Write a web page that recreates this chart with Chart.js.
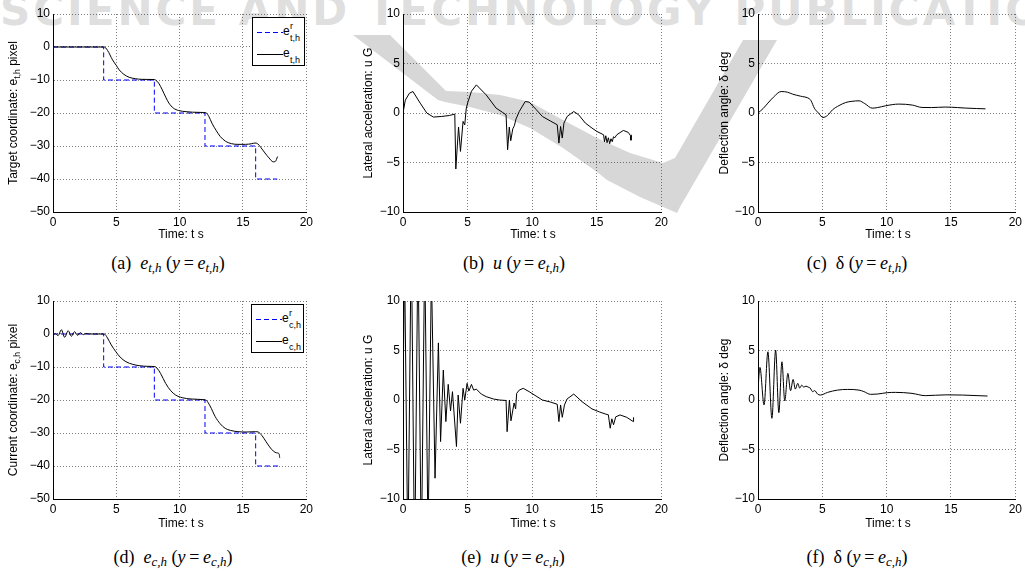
<!DOCTYPE html>
<html>
<head>
<meta charset="utf-8">
<script src="https://cdn.jsdelivr.net/npm/chart.js@4.4.1/dist/chart.umd.min.js"></script>
<style>
  html, body { margin: 0; padding: 0; background: #fff; }
  #page { position: relative; width: 1025px; height: 571px; overflow: hidden;
          font-family: "Liberation Sans", Arial, sans-serif; color: #000; }
  .wm { position: absolute; left: 0; top: -10px; font: bold 42px/42px "DejaVu Sans";
        letter-spacing: 3px; color: #dfdfdf; white-space: nowrap; }
  canvas { position: absolute; }
  .yt { position: absolute; font-size: 12px; white-space: nowrap;
        transform: translate(-50%, -50%) rotate(-90deg); }
  .xt { position: absolute; font-size: 12px; white-space: nowrap; transform: translate(-50%, -50%); }
  .cap { position: absolute; font: 18px "Liberation Serif", "Times New Roman", serif;
         white-space: nowrap; transform: translate(-50%, -50%); }
  .yt sub, .cap sub { font-size: 0.72em; vertical-align: -0.3em; line-height: 0; }
  .lg { position: absolute; box-sizing: border-box; border: 1px solid #000; background: #fff; }
  .lg svg { position: absolute; left: 0; top: 0; }
  .lg span { position: absolute; line-height: 1; white-space: nowrap; }
  .lg .e { font-size: 12px; }
  .lg .s { font-size: 9px; }
</style>
</head>
<body>
<div id="page">
  <div class="wm">SCIENCE AND TECHNOLOGY PUBLICATIONS</div>
  <svg width="1025" height="571" style="position:absolute;left:0;top:0">
    <path fill="#d7d7d7" d="M353 35 L390 35 L446 91 L470 92 L500 95 L530 102 L563 120 L597 138 L630 153 L663 163 L675 158
      L743 40 L777 40 L680 207 L677 213 L640 197 L607 180 L597 172 L563 148 L530 128 L500 115 L470 107 L445 102 L438 100 Z"/>
  </svg>
</div>

<script>
/* ---------- data ---------- */

// (a) target coordinate, reference step and response
const refTimeA = [0, 4, 4, 8, 8, 12, 12, 16, 16, 17.7];
const refValA  = [0, 0, -10, -10, -20, -20, -30, -30, -40, -40];
const timeA = [0, 4.05, 4.3, 4.7, 5.0, 5.23, 5.6, 6.01, 6.5, 7.0, 7.98, 8.1, 8.35, 8.63, 8.9, 9.15, 9.5, 9.93,
               10.5, 11.0, 11.9, 12.1, 12.3, 12.55, 12.9, 13.2, 13.6, 14.1, 14.6, 15.2, 15.7, 15.95, 16.15,
               16.4, 16.73, 17.05, 17.39, 17.55, 17.73];
const valA  = [0, 0, -1.0, -3.9, -5.6, -6.95, -8.3, -9.17, -9.6, -9.8, -9.85, -10.0, -11.0, -13.0, -15.2, -17.0,
               -18.5, -19.26, -19.6, -19.75, -19.85, -20.0, -21.0, -23.1, -25.4, -27.1, -28.5, -29.3, -29.5,
               -29.5, -29.3, -29.1, -29.3, -30.4, -32.1, -33.6, -34.8, -34.7, -33.2];

// (b) lateral acceleration, y = e_t,h
const timeB = [0, 0.18, 0.5, 0.77, 1.33, 1.84, 2.35, 3.0, 3.6, 4.01, 4.09, 4.3, 4.45, 4.65, 4.78, 4.9, 5.04, 5.3,
               5.68, 6.44, 7.21, 7.72, 7.98, 8.1, 8.23, 8.34, 8.5, 8.62, 8.75, 9.0, 9.46, 9.77, 10.28, 10.79,
               11.4, 11.94, 12.07, 12.2, 12.33, 12.46, 12.71, 13.22, 13.6, 14.12, 14.63, 15.01, 15.53, 15.6,
               15.7, 15.8, 15.9, 16.0, 16.1, 16.2, 16.3, 16.4, 16.55, 17.06, 17.44, 17.62, 17.65, 17.68];
const valB  = [0, 1.3, 2.0, 2.17, 1.0, 0.0, -0.41, -0.35, -0.25, -0.11, -5.66, -1.42, -3.88, -0.85, -1.2, 0.5,
               1.16, 2.2, 2.84, 1.83, 0.49, 0.05, -0.18, -3.71, -1.42, -2.8, -1.6, -1.29, -0.6, 0.15, 1.16, 1.1,
               0.39, -0.35, -0.8, -1.19, -3.04, -1.36, -2.53, -1.02, -0.35, 0.15, -0.18, -1.02, -1.52, -1.86,
               -2.2, -2.9, -2.3, -3.0, -2.5, -3.1, -2.6, -2.9, -2.4, -2.5, -2.2, -1.76, -1.96, -2.3, -2.75, -2.2];

// (c) deflection angle, y = e_t,h
const timeC = [0, 0.4, 0.77, 1.2, 1.8, 2.3, 2.7, 3.3, 4.0, 4.12, 4.38, 4.7, 5.05, 5.4, 5.79, 6.3, 6.82, 7.3,
               7.85, 8.3, 8.88, 9.3, 9.92, 10.94, 12.0, 12.74, 13.5, 14.55, 15.5, 16.1, 17.0, 17.68];
const valC  = [0, 0.45, 1.0, 1.6, 2.17, 2.1, 1.9, 1.7, 1.43, 1.25, 0.49, 0, -0.45, -0.25, 0.32, 0.75, 1.06, 1.18,
               1.23, 0.95, 0.49, 0.55, 0.73, 0.9, 0.8, 0.56, 0.55, 0.6, 0.55, 0.5, 0.45, 0.42];

// (d) current coordinate, reference step and response
const refTimeD = [0, 4, 4, 8, 8, 12, 12, 16, 16, 17.9];
const refValD  = [0, 0, -10, -10, -20, -20, -30, -30, -40, -40];
const timeD = [0, 0.2, 0.4, 0.66, 0.92, 1.2, 1.45, 1.7, 1.95, 2.15, 2.4, 2.6, 2.9, 4.05, 4.3, 4.6, 4.97, 5.3,
               5.76, 6.3, 6.8, 7.5, 8.05, 8.2, 8.5, 8.9, 9.3, 9.68, 10.2, 10.9, 11.9, 12.1, 12.4, 12.8, 13.2,
               13.6, 14.0, 14.6, 15.3, 16.0, 16.2, 16.5, 16.8, 17.1, 17.4, 17.65, 17.85, 17.9];
const valD  = [-0.4, 0.1, -0.5, 1.3, -1.0, 1.0, -0.7, 0.7, -0.4, 0.4, -0.2, 0.15, 0, 0, -1.2, -3.3, -5.4, -7.0,
               -8.4, -9.2, -9.6, -9.8, -9.9, -10.3, -12.0, -15.0, -17.2, -18.5, -19.3, -19.7, -19.9, -20.1,
               -21.8, -25.0, -27.2, -28.6, -29.2, -29.6, -29.7, -29.6, -29.7, -30.8, -32.5, -34.2, -35.5,
               -36.0, -36.3, -37.5];

// (e) lateral acceleration, y = e_c,h
const timeE = [0, 0.12, 0.38, 0.64, 0.9, 1.16, 1.42, 1.68, 1.94, 2.2, 2.48, 2.74, 2.91, 3.12, 3.32, 3.5, 3.68,
               3.83, 4.14, 4.27, 4.45, 4.65, 4.78, 4.96, 5.1, 5.3, 5.47, 5.68, 6.06, 6.44, 7.0, 7.47, 7.98, 8.06,
               8.24, 8.36, 8.6, 8.72, 8.8, 9.0, 9.31, 9.77, 10.3, 10.79, 11.4, 11.94, 12.07, 12.2, 12.33, 12.5,
               12.7, 13.22, 13.86, 14.63, 15.2, 15.66, 15.9, 16.04, 16.17, 16.3, 16.47, 16.81, 17.32, 17.83, 17.85];
const valE  = [0, 14, -16, 17, -17, 16, -16, 15, -14, 13, -7.9, 5.77, -4.2, 3.02, -2.18, 1.58, -1.1, 0.84, -4.7,
               0.5, -2.35, 1.18, 0, 1.68, 0.9, 1.58, 1.0, 1.1, 0.6, 0.34, 0.1, 0, -0.05, -3.2, 0, -2.1, -0.3,
               -0.9, 0.67, 1.0, 1.18, 0.84, 0.4, 0, -0.2, -0.43, -2.18, -0.5, -1.75, -0.5, 0.1, 0.6, -0.17, -0.9,
               -1.2, -1.41, -1.5, -2.85, -1.9, -2.5, -1.7, -1.51, -1.75, -2.18, -1.75];

// (f) deflection angle, y = e_c,h
const timeF = [0, 0.05, 0.15, 0.47, 0.77, 1.08, 1.37, 1.62, 1.86, 2.08, 2.32, 2.53, 2.73, 2.9, 3.09, 3.24, 3.4,
               3.55, 3.73, 3.9, 4.06, 4.25, 4.4, 4.63, 4.84, 5.41, 6.18, 6.95, 7.85, 8.23, 8.75, 9.27, 10.04,
               10.69, 11.97, 13.0, 14.6, 15.9, 17.84];
const valF  = [0.5, 2.0, 3.3, -0.5, 4.87, -1.85, 5.03, -1.28, 3.86, -0.1, 2.69, 0.94, 2.08, 1.1, 1.68, 1.2, 1.5,
               1.3, 1.4, 1.3, 1.2, 0.84, 0.95, 0.6, 0.5, 0.77, 1.0, 1.07, 1.0, 0.85, 0.57, 0.6, 0.74, 0.77, 0.67,
               0.44, 0.52, 0.5, 0.4];

const xTicksStep = 5;

/* ---------- layout ---------- */
const AXIS_W = 53, PAD_TOP = 14, PAD_RIGHT = 8, AXIS_H = 40;
const TICK_FONT = { family: "'Liberation Sans', Arial, sans-serif", size: 12 };
const GRID = 'rgba(0,0,0,0.5)';
const page = document.getElementById('page');

function pts(t, v) { return t.map((x, i) => ({ x, y: v[i] })); }
const minus = v => (v < 0 ? '\u2212' + Math.abs(v) : '' + v);

function plot(area, yMin, yMax, yStep, datasets) {
  const [L, T, R, B] = area;
  const cv = document.createElement('canvas');
  cv.width = R - L + AXIS_W + PAD_RIGHT;
  cv.height = B - T + PAD_TOP + AXIS_H;
  cv.style.left = (L - AXIS_W) + 'px';
  cv.style.top = (T - PAD_TOP) + 'px';
  page.appendChild(cv);

  const axis = {
    grid: { color: GRID, drawTicks: false },
    border: { color: '#000', width: 1, dash: [1, 2] },
  };

  new Chart(cv, {
    type: 'line',
    data: { datasets },
    options: {
      responsive: false,
      animation: false,
      layout: { padding: { left: 0, top: PAD_TOP, right: PAD_RIGHT, bottom: 0 } },
      plugins: { legend: { display: false }, tooltip: { enabled: false } },
      elements: { point: { radius: 0 }, line: { borderWidth: 1 } },
      scales: {
        x: {
          ...axis, type: 'linear', min: 0, max: 20,
          afterFit: s => { s.height = AXIS_H; },
          ticks: { stepSize: xTicksStep, color: '#000', font: TICK_FONT, padding: 3, maxRotation: 0 },
        },
        y: {
          ...axis, type: 'linear', min: yMin, max: yMax,
          afterFit: s => { s.width = AXIS_W; },
          ticks: { stepSize: yStep, color: '#000', font: TICK_FONT, padding: 3, callback: minus },
        },
      },
    },
  });
}

const solid = (t, v, smooth) => ({
  data: pts(t, v), borderColor: '#000', borderWidth: 1, fill: false,
  cubicInterpolationMode: smooth ? 'monotone' : 'default', tension: 0,
});
const dashed = (t, v) => ({
  data: pts(t, v), borderColor: '#0000ff', borderWidth: 1, borderDash: [5, 3], fill: false, tension: 0,
});

plot([53, 14, 308, 212], -50, 10, 10, [solid(timeA, valA, true), dashed(refTimeA, refValA)]);
plot([403, 14, 663, 212], -10, 10, 5, [solid(timeB, valB, false)]);
plot([758, 14, 1017, 212], -10, 10, 5, [solid(timeC, valC, true)]);
plot([53, 301, 308, 499], -50, 10, 10, [solid(timeD, valD, true), dashed(refTimeD, refValD)]);
plot([403, 301, 663, 499], -10, 10, 5, [solid(timeE, valE, false)]);
plot([758, 301, 1017, 499], -10, 10, 5, [solid(timeF, valF, true)]);

/* ---------- text overlays ---------- */
function add(cls, x, y, html) {
  const d = document.createElement('div');
  d.className = cls;
  d.style.left = x + 'px';
  d.style.top = y + 'px';
  d.innerHTML = html;
  page.appendChild(d);
  return d;
}

add('yt', 13, 113, 'Target coordinate: e<sub>t,h</sub> pixel');
add('yt', 368, 113, 'Lateral acceleration: u G');
add('yt', 724, 113, 'Deflection angle: \u03b4 deg');
add('yt', 13, 400, 'Current coordinate: e<sub>c,h</sub> pixel');
add('yt', 368, 400, 'Lateral acceleration: u G');
add('yt', 724, 400, 'Deflection angle: \u03b4 deg');

[[181, 233.5], [533, 233.5], [888, 233.5], [181, 522.5], [533, 522.5], [888, 522.5]]
  .forEach(([x, y]) => add('xt', x, y, 'Time: t s'));

const eq = s => '(<i>y</i>&thinsp;=&thinsp;<i>e</i><sub><i>' + s + '</i></sub>)';
add('cap', 168, 263, '(a)&nbsp; <i>e</i><sub><i>t,h</i></sub> ' + eq('t,h'));
add('cap', 514, 263, '(b)&nbsp; <i>u</i> ' + eq('t,h'));
add('cap', 857, 263, '(c)&nbsp; \u03b4 ' + eq('t,h'));
add('cap', 173, 557, '(d)&nbsp; <i>e</i><sub><i>c,h</i></sub> ' + eq('c,h'));
add('cap', 513, 557, '(e)&nbsp; <i>u</i> ' + eq('c,h'));
add('cap', 857, 557, '(f)&nbsp; \u03b4 ' + eq('c,h'));

function legend(x, y, sub) {
  const box = add('lg', x, y,
    '<svg width="53" height="49"><line x1="4" y1="14.5" x2="30" y2="14.5" stroke="#00f" stroke-dasharray="5,3"/>' +
    '<line x1="4" y1="36.5" x2="30" y2="36.5" stroke="#000"/></svg>' +
    '<span class="e" style="left:30px;top:7px">e</span>' +
    '<span class="s" style="left:37px;top:4px">r</span>' +
    '<span class="s" style="left:37px;top:16px">' + sub + '</span>' +
    '<span class="e" style="left:30px;top:29px">e</span>' +
    '<span class="s" style="left:37px;top:38px">' + sub + '</span>');
  box.style.width = '53px';
  box.style.height = '49px';
}
legend(252, 17, 't,h');
legend(251, 304, 'c,h');
</script>
</body>
</html>
